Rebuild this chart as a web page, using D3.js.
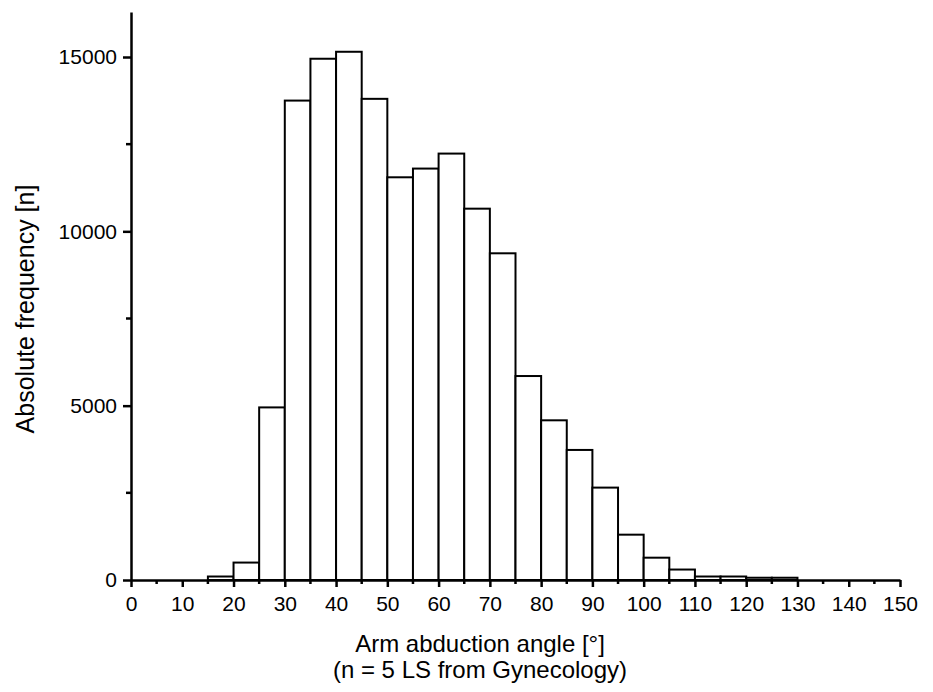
<!DOCTYPE html>
<html>
<head>
<meta charset="utf-8">
<script src="https://cdn.jsdelivr.net/npm/d3@7"></script>
<style>
  body { margin: 0; background: #fff; }
  svg { display: block; font-family: "Liberation Sans", Arial, sans-serif; }
</style>
</head>
<body>
<div id="chart"></div>
<script>
// bin edges (degrees) and counts per 5-degree bin
const binStarts = [0, 5, 10, 15, 20, 25, 30, 35, 40, 45, 50, 55, 60, 65, 70, 75, 80, 85, 90, 95, 100, 105, 110, 115, 120, 125];
const counts = [0, 0, 0, 100, 500, 4950, 13750, 14950, 15150, 13800, 11550, 11800, 12230, 10650, 9370, 5850, 4580, 3730, 2650, 1300, 640, 300, 100, 100, 65, 65];
const xMajorTicks = d3.range(0, 151, 10);
const xMinorTicks = d3.range(5, 150, 10);
const yMajorTicks = [0, 5000, 10000, 15000];
const yMinorTicks = [2500, 7500, 12500];
const binWidth = 5;

const width = 933, height = 692;

const svg = d3.select("#chart").append("svg")
    .attr("width", width)
    .attr("height", height);

const x = d3.scaleLinear().domain([0, 150]).range([131, 900]);
const y = d3.scaleLinear().domain([0, 15000]).range([580, 57]);
const yTop = y.invert(12);

const data = binStarts.map((s, i) => ({ x0: s, x1: s + binWidth, n: counts[i] }));

// bars
svg.append("g")
    .selectAll("rect")
    .data(data.filter(d => d.n > 0))
    .join("rect")
    .attr("x", d => x(d.x0))
    .attr("y", d => y(d.n))
    .attr("width", d => x(d.x1) - x(d.x0))
    .attr("height", d => y(0) - y(d.n))
    .attr("fill", "#fff")
    .attr("stroke", "#000")
    .attr("stroke-width", 2);

// x axis
const xAxis = svg.append("g").attr("transform", `translate(0,${y(0)})`);
xAxis.call(d3.axisBottom(x).tickValues(xMajorTicks).tickFormat(d3.format("d"))
    .tickSize(7).tickPadding(9).tickSizeOuter(0));
xAxis.append("g").selectAll("line")
    .data(xMinorTicks)
    .join("line")
    .attr("x1", d => x(d)).attr("x2", d => x(d))
    .attr("y1", 0).attr("y2", 4)
    .attr("stroke", "#000").attr("stroke-width", 2.5);

// y axis
const yAxis = svg.append("g").attr("transform", `translate(${x(0)},0)`);
yAxis.call(d3.axisLeft(y.copy().domain([0, yTop]).range([580, 12]))
    .tickValues(yMajorTicks).tickFormat(d3.format("d"))
    .tickSize(8).tickPadding(6).tickSizeOuter(0));
yAxis.append("g").selectAll("line")
    .data(yMinorTicks)
    .join("line")
    .attr("x1", 0).attr("x2", -5)
    .attr("y1", d => y(d)).attr("y2", d => y(d))
    .attr("stroke", "#000").attr("stroke-width", 2.5);

svg.selectAll(".domain").attr("stroke", "#000").attr("stroke-width", 2.5);
svg.selectAll(".tick line").attr("stroke", "#000").attr("stroke-width", 2.5);
xAxis.attr("font-size", 21).attr("font-family", "Liberation Sans, Arial, sans-serif");
yAxis.attr("font-size", 21).attr("font-family", "Liberation Sans, Arial, sans-serif");
svg.selectAll(".tick text").attr("fill", "#000");

// axis titles
svg.append("text")
    .attr("x", 480).attr("y", 652)
    .attr("text-anchor", "middle")
    .attr("font-size", 24)
    .text("Arm abduction angle [°]");
svg.append("text")
    .attr("x", 480).attr("y", 678)
    .attr("text-anchor", "middle")
    .attr("font-size", 24)
    .text("(n = 5 LS from Gynecology)");

svg.append("text")
    .attr("transform", `translate(34,309) rotate(-90)`)
    .attr("text-anchor", "middle")
    .attr("font-size", 25)
    .text("Absolute frequency [n]");
</script>
</body>
</html>
